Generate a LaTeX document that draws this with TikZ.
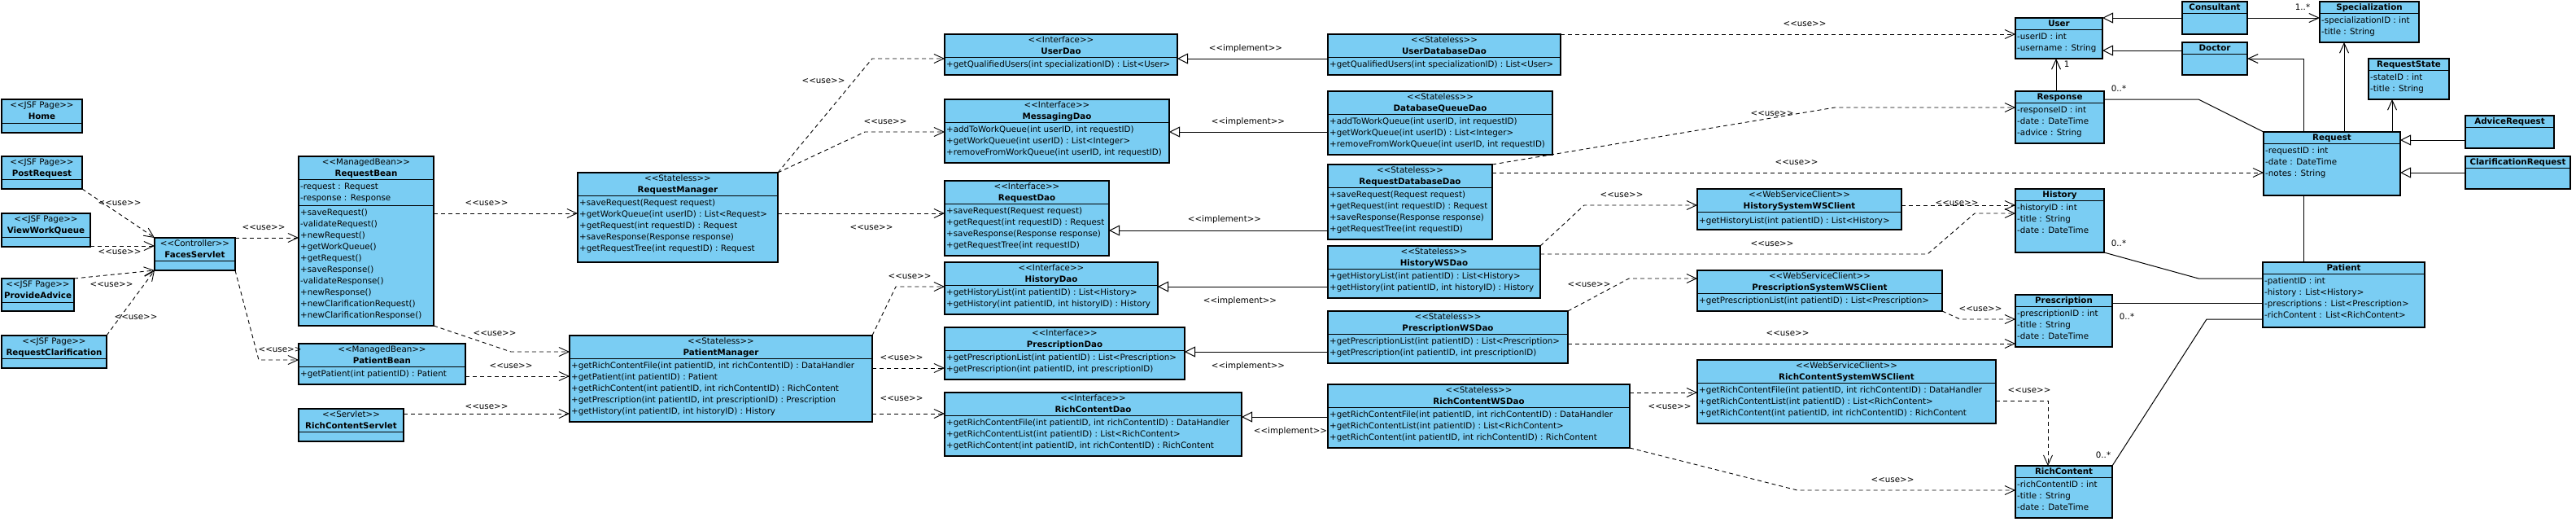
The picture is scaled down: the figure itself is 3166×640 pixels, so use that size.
\documentclass[tikz,border=0pt]{standalone}
\usepackage{fontspec}
\setmainfont{DejaVu Sans}[Ligatures=TeXOff]
\usetikzlibrary{arrows.meta}
\definecolor{clsfill}{RGB}{122,205,243}
\tikzset{
  cbox/.style={draw=black, fill=clsfill, line width=1.2pt, inner sep=0pt, outer sep=0pt, rectangle},
  divl/.style={draw=black, line width=1pt},
  txt/.style={inner sep=0pt, text height=7pt, text depth=2pt, font=\fontsize{10.3pt}{12pt}\selectfont},
  lbl/.style={txt},
  dep/.style={line width=0.9pt, dash pattern=on 5pt off 4pt, -{Straight Barb[length=12pt,width=11pt,line width=0.9pt]}},
  impl/.style={line width=1pt, -{Triangle[open,length=13pt,width=13pt,line width=1pt]}},
  nav/.style={line width=1pt, -{Straight Barb[length=12pt,width=11pt,line width=1pt]}},
  assoc/.style={line width=1pt},
}
\newcommand\ubox[5]{\node[cbox,anchor=north west,minimum width={#4-#2},minimum height={#5-#3}] (#1) at (#2,#3) {};}
\newcommand\udiv[2]{\draw[divl] (#1.west |- 0,#2) -- (#1.east |- 0,#2);}
\newcommand\uc[3]{\node[txt] (#1-#2) at (#1.north |- 0,#2+1) {#3};}
\newcommand\ul[3]{\node[txt,anchor=west,xshift=2pt] (#1-#2) at (#1.west |- 0,#2+1) {#3};}
\begin{document}
\begin{tikzpicture}[x=1pt,y=-1pt]
\fill[white] (0,0) rectangle (3166,640);
\useasboundingbox (0,0) rectangle (3166,640);
% ---------- JSF pages ----------
\ubox{home}{2}{122}{101}{163}\udiv{home}{151}
\uc{home}{129}{<<JSF Page>>}\uc{home}{143}{\textbf{Home}}
\ubox{post}{2}{192}{101}{232}\udiv{post}{220}
\uc{post}{199}{<<JSF Page>>}\uc{post}{213}{\textbf{PostRequest}}
\ubox{view}{2}{262}{111}{303}\udiv{view}{291}
\uc{view}{269}{<<JSF Page>>}\uc{view}{283}{\textbf{ViewWorkQueue}}
\ubox{prov}{2}{342}{91}{382}\udiv{prov}{371}
\uc{prov}{349}{<<JSF Page>>}\uc{prov}{363}{\textbf{ProvideAdvice}}
\ubox{rclar}{2}{412}{131}{452}\udiv{rclar}{440}
\uc{rclar}{419}{<<JSF Page>>}\uc{rclar}{433}{\textbf{RequestClarification}}
\ubox{faces}{190}{292}{289}{332}\udiv{faces}{320}
\uc{faces}{299}{<<Controller>>}\uc{faces}{313}{\textbf{FacesServlet}}
% ---------- beans ----------
\ubox{rbean}{367}{192}{533}{400}\udiv{rbean}{220}\udiv{rbean}{252}
\uc{rbean}{199}{<<ManagedBean>>}\uc{rbean}{213}{\textbf{RequestBean}}
\ul{rbean}{229}{-request : Request}
\ul{rbean}{243}{-response : Response}
\ul{rbean}{261}{+saveRequest()}
\ul{rbean}{275}{-validateRequest()}
\ul{rbean}{289}{+newRequest()}
\ul{rbean}{303}{+getWorkQueue()}
\ul{rbean}{317}{+getRequest()}
\ul{rbean}{331}{+saveResponse()}
\ul{rbean}{345}{-validateResponse()}
\ul{rbean}{359}{+newResponse()}
\ul{rbean}{373}{+newClarificationRequest()}
\ul{rbean}{387}{+newClarificationResponse()}
\ubox{pbean}{367}{422}{572}{472}\udiv{pbean}{450}
\uc{pbean}{429}{<<ManagedBean>>}\uc{pbean}{443}{\textbf{PatientBean}}
\ul{pbean}{459}{+getPatient(int patientID) : Patient}
\ubox{rcserv}{367}{502}{496}{542}\udiv{rcserv}{530}
\uc{rcserv}{509}{<<Servlet>>}\uc{rcserv}{523}{\textbf{RichContentServlet}}
% ---------- managers ----------
\ubox{rmgr}{710}{212}{956}{322}\udiv{rmgr}{240}
\uc{rmgr}{219}{<<Stateless>>}\uc{rmgr}{233}{\textbf{RequestManager}}
\ul{rmgr}{249}{+saveRequest(Request request)}
\ul{rmgr}{263}{+getWorkQueue(int userID) : List<Request>}
\ul{rmgr}{277}{+getRequest(int requestID) : Request}
\ul{rmgr}{291}{+saveResponse(Response response)}
\ul{rmgr}{305}{+getRequestTree(int requestID) : Request}
\ubox{pmgr}{700}{412}{1072}{518}\udiv{pmgr}{440}
\uc{pmgr}{419}{<<Stateless>>}\uc{pmgr}{433}{\textbf{PatientManager}}
\ul{pmgr}{449}{+getRichContentFile(int patientID, int richContentID) : DataHandler}
\ul{pmgr}{463}{+getPatient(int patientID) : Patient}
\ul{pmgr}{477}{+getRichContent(int patientID, int richContentID) : RichContent}
\ul{pmgr}{491}{+getPrescription(int patientID, int prescriptionID) : Prescription}
\ul{pmgr}{505}{+getHistory(int patientID, int historyID) : History}
% ---------- interfaces ----------
\ubox{udao}{1161}{42}{1447}{92}\udiv{udao}{70}
\uc{udao}{49}{<<Interface>>}\uc{udao}{63}{\textbf{UserDao}}
\ul{udao}{79}{+getQualifiedUsers(int specializationID) : List<User>}
\ubox{mdao}{1161}{122}{1437}{200}\udiv{mdao}{150}
\uc{mdao}{129}{<<Interface>>}\uc{mdao}{143}{\textbf{MessagingDao}}
\ul{mdao}{159}{+addToWorkQueue(int userID, int requestID)}
\ul{mdao}{173}{+getWorkQueue(int userID) : List<Integer>}
\ul{mdao}{187}{+removeFromWorkQueue(int userID, int requestID)}
\ubox{rdao}{1161}{222}{1363}{314}\udiv{rdao}{250}
\uc{rdao}{229}{<<Interface>>}\uc{rdao}{243}{\textbf{RequestDao}}
\ul{rdao}{259}{+saveRequest(Request request)}
\ul{rdao}{273}{+getRequest(int requestID) : Request}
\ul{rdao}{287}{+saveResponse(Response response)}
\ul{rdao}{301}{+getRequestTree(int requestID)}
\ubox{hdao}{1161}{322}{1423}{386}\udiv{hdao}{350}
\uc{hdao}{329}{<<Interface>>}\uc{hdao}{343}{\textbf{HistoryDao}}
\ul{hdao}{359}{+getHistoryList(int patientID) : List<History>}
\ul{hdao}{373}{+getHistory(int patientID, int historyID) : History}
\ubox{prdao}{1161}{402}{1456}{466}\udiv{prdao}{430}
\uc{prdao}{409}{<<Interface>>}\uc{prdao}{423}{\textbf{PrescriptionDao}}
\ul{prdao}{439}{+getPrescriptionList(int patientID) : List<Prescription>}
\ul{prdao}{453}{+getPrescription(int patientID, int prescriptionID)}
\ubox{rcdao}{1161}{482}{1526}{560}\udiv{rcdao}{510}
\uc{rcdao}{489}{<<Interface>>}\uc{rcdao}{503}{\textbf{RichContentDao}}
\ul{rcdao}{519}{+getRichContentFile(int patientID, int richContentID) : DataHandler}
\ul{rcdao}{533}{+getRichContentList(int patientID) : List<RichContent>}
\ul{rcdao}{547}{+getRichContent(int patientID, int richContentID) : RichContent}
% ---------- implementations ----------
\ubox{udbdao}{1632}{42}{1918}{92}\udiv{udbdao}{70}
\uc{udbdao}{49}{<<Stateless>>}\uc{udbdao}{63}{\textbf{UserDatabaseDao}}
\ul{udbdao}{79}{+getQualifiedUsers(int specializationID) : List<User>}
\ubox{dbqdao}{1632}{112}{1908}{190}\udiv{dbqdao}{140}
\uc{dbqdao}{119}{<<Stateless>>}\uc{dbqdao}{133}{\textbf{DatabaseQueueDao}}
\ul{dbqdao}{149}{+addToWorkQueue(int userID, int requestID)}
\ul{dbqdao}{163}{+getWorkQueue(int userID) : List<Integer>}
\ul{dbqdao}{177}{+removeFromWorkQueue(int userID, int requestID)}
\ubox{rdbdao}{1632}{202}{1834}{294}\udiv{rdbdao}{230}
\uc{rdbdao}{209}{<<Stateless>>}\uc{rdbdao}{223}{\textbf{RequestDatabaseDao}}
\ul{rdbdao}{239}{+saveRequest(Request request)}
\ul{rdbdao}{253}{+getRequest(int requestID) : Request}
\ul{rdbdao}{267}{+saveResponse(Response response)}
\ul{rdbdao}{281}{+getRequestTree(int requestID)}
\ubox{hwsdao}{1632}{302}{1893}{366}\udiv{hwsdao}{330}
\uc{hwsdao}{309}{<<Stateless>>}\uc{hwsdao}{323}{\textbf{HistoryWSDao}}
\ul{hwsdao}{339}{+getHistoryList(int patientID) : List<History>}
\ul{hwsdao}{353}{+getHistory(int patientID, int historyID) : History}
\ubox{pwsdao}{1632}{382}{1927}{446}\udiv{pwsdao}{410}
\uc{pwsdao}{389}{<<Stateless>>}\uc{pwsdao}{403}{\textbf{PrescriptionWSDao}}
\ul{pwsdao}{419}{+getPrescriptionList(int patientID) : List<Prescription>}
\ul{pwsdao}{433}{+getPrescription(int patientID, int prescriptionID)}
\ubox{rcwsdao}{1632}{472}{2003}{550}\udiv{rcwsdao}{500}
\uc{rcwsdao}{479}{<<Stateless>>}\uc{rcwsdao}{493}{\textbf{RichContentWSDao}}
\ul{rcwsdao}{509}{+getRichContentFile(int patientID, int richContentID) : DataHandler}
\ul{rcwsdao}{523}{+getRichContentList(int patientID) : List<RichContent>}
\ul{rcwsdao}{537}{+getRichContent(int patientID, int richContentID) : RichContent}
% ---------- web service clients ----------
\ubox{hsc}{2086}{232}{2337}{282}\udiv{hsc}{260}
\uc{hsc}{239}{<<WebServiceClient>>}\uc{hsc}{253}{\textbf{HistorySystemWSClient}}
\ul{hsc}{271}{+getHistoryList(int patientID) : List<History>}
\ubox{psc}{2086}{332}{2387}{382}\udiv{psc}{360}
\uc{psc}{339}{<<WebServiceClient>>}\uc{psc}{353}{\textbf{PrescriptionSystemWSClient}}
\ul{psc}{369}{+getPrescriptionList(int patientID) : List<Prescription>}
\ubox{rcsc}{2086}{442}{2453}{520}\udiv{rcsc}{470}
\uc{rcsc}{449}{<<WebServiceClient>>}\uc{rcsc}{463}{\textbf{RichContentSystemWSClient}}
\ul{rcsc}{479}{+getRichContentFile(int patientID, int richContentID) : DataHandler}
\ul{rcsc}{493}{+getRichContentList(int patientID) : List<RichContent>}
\ul{rcsc}{507}{+getRichContent(int patientID, int richContentID) : RichContent}
% ---------- entities ----------
\ubox{user}{2477}{22}{2584}{72}\udiv{user}{36}
\uc{user}{29}{\textbf{User}}
\ul{user}{45}{-userID : int}\ul{user}{59}{-username : String}
\ubox{resp}{2477}{112}{2586}{176}\udiv{resp}{126}
\uc{resp}{119}{\textbf{Response}}
\ul{resp}{135}{-responseID : int}\ul{resp}{149}{-date : DateTime}\ul{resp}{163}{-advice : String}
\ubox{hist}{2477}{232}{2586}{310}\udiv{hist}{246}
\uc{hist}{239}{\textbf{History}}
\ul{hist}{255}{-historyID : int}\ul{hist}{269}{-title : String}\ul{hist}{283}{-date : DateTime}
\ubox{presc}{2477}{362}{2596}{426}\udiv{presc}{376}
\uc{presc}{369}{\textbf{Prescription}}
\ul{presc}{385}{-prescriptionID : int}\ul{presc}{399}{-title : String}\ul{presc}{413}{-date : DateTime}
\ubox{rc}{2477}{572}{2596}{636}\udiv{rc}{586}
\uc{rc}{579}{\textbf{RichContent}}
\ul{rc}{595}{-richContentID : int}\ul{rc}{609}{-title : String}\ul{rc}{623}{-date : DateTime}
\ubox{cons}{2682}{2}{2762}{42}\udiv{cons}{16}
\uc{cons}{9}{\textbf{Consultant}}
\ubox{doc}{2682}{52}{2762}{92}\udiv{doc}{66}
\uc{doc}{59}{\textbf{Doctor}}
\ubox{spec}{2851}{2}{2973}{52}\udiv{spec}{16}
\uc{spec}{9}{\textbf{Specialization}}
\ul{spec}{25}{-specializationID : int}\ul{spec}{39}{-title : String}
\ubox{rstate}{2911}{72}{3010}{122}\udiv{rstate}{86}
\uc{rstate}{79}{\textbf{RequestState}}
\ul{rstate}{95}{-stateID : int}\ul{rstate}{109}{-title : String}
\ubox{req}{2782}{162}{2950}{240}\udiv{req}{176}
\uc{req}{169}{\textbf{Request}}
\ul{req}{185}{-requestID : int}\ul{req}{199}{-date : DateTime}\ul{req}{213}{-notes : String}
\ubox{pat}{2781}{322}{2980}{402}\udiv{pat}{336}
\uc{pat}{329}{\textbf{Patient}}
\ul{pat}{345}{-patientID : int}
\ul{pat}{359}{-history : List<History>}
\ul{pat}{373}{-prescriptions : List<Prescription>}
\ul{pat}{387}{-richContent : List<RichContent>}
\ubox{adv}{3030}{142}{3139}{182}\udiv{adv}{156}
\uc{adv}{149}{\textbf{AdviceRequest}}
\ubox{clr}{3030}{192}{3159}{232}\udiv{clr}{206}
\uc{clr}{199}{\textbf{ClarificationRequest}}
% ---------- connectors ----------
\draw[dep] (post.south east) -- (faces.north west);
\draw[dep] (view.east |- 0,302) -- (faces.west |- 0,302);
\draw[dep] (prov.north east) -- (faces.south west);
\draw[dep] (rclar.north east) -- (faces.south west);
\draw[dep] (faces.north east) -- (rbean.west |- faces.north east);
\draw[dep] (faces.south east) -- (318,442) -- (pbean.west |- 0,442);
\draw[dep] (rbean.east |- 0,262) -- (rmgr.west |- 0,262);
\draw[dep] (rbean.south east) -- (628,432) -- (pmgr.west |- 0,432);
\draw[dep] (pbean.east |- 0,462) -- (pmgr.west |- 0,462);
\draw[dep] (rcserv.east |- 0,508) -- (pmgr.west |- 0,508);
\draw[dep] (rmgr.north east) -- (1072,72) -- (udao.west |- 0,72);
\draw[dep] (rmgr.north east) -- (1063,162) -- (mdao.west |- 0,162);
\draw[dep] (rmgr.east |- 0,262) -- (rdao.west |- 0,262);
\draw[dep] (pmgr.north east) -- (1101,352) -- (hdao.west |- 0,352);
\draw[dep] (pmgr.east |- 0,452) -- (prdao.west |- 0,452);
\draw[dep] (pmgr.east |- 0,508) -- (rcdao.west |- 0,508);
\draw[impl] (udbdao.west |- 0,72) -- (udao.east |- 0,72);
\draw[impl] (dbqdao.west |- 0,162) -- (mdao.east |- 0,162);
\draw[impl] (rdbdao.west |- 0,283) -- (rdao.east |- 0,283);
\draw[impl] (hwsdao.west |- 0,352) -- (hdao.east |- 0,352);
\draw[impl] (pwsdao.west |- 0,432) -- (prdao.east |- 0,432);
\draw[impl] (rcwsdao.west |- 0,512) -- (rcdao.east |- 0,512);
\draw[dep] (udbdao.north east) -- (user.west |- udbdao.north east);
\draw[dep] (rdbdao.north east) -- (2255,132) -- (resp.west |- 0,132);
\draw[dep] (rdbdao.east |- 0,212) -- (req.west |- 0,212);
\draw[dep] (hwsdao.north east) -- (1947,252) -- (hsc.west |- 0,252);
\draw[dep] (hwsdao.east |- 0,312) -- (2369,312) -- (2427,262) -- (hist.west |- 0,262);
\draw[dep] (hsc.east |- 0,252) -- (hist.west |- 0,252);
\draw[dep] (pwsdao.north east) -- (2002,342) -- (psc.west |- 0,342);
\draw[dep] (psc.south east) -- (2409,392) -- (presc.west |- 0,392);
\draw[dep] (pwsdao.east |- 0,422) -- (presc.west |- 0,422);
\draw[dep] (rcwsdao.east |- 0,482) -- (rcsc.west |- 0,482);
\draw[dep] (rcsc.east |- 0,492) -- (2517,492) -- (rc.north -| 2517,0);
\draw[dep] (rcwsdao.south east) -- (2209,602) -- (rc.west |- 0,602);
\draw[nav] (resp.north -| 2527,0) -- (user.south -| 2527,0);
\draw[assoc] (resp.east |- 0,122) -- (2702,122) -- (req.north west);
\draw[impl] (cons.west |- 0,22) -- (user.east |- 0,22);
\draw[impl] (doc.west |- 0,62) -- (user.east |- 0,62);
\draw[nav] (cons.east |- 0,22) -- (spec.west |- 0,22);
\draw[nav] (req.north -| 2831,0) -- (2831,72) -- (doc.east |- 0,72);
\draw[nav] (req.north -| 2881,0) -- (spec.south -| 2881,0);
\draw[nav] (req.north -| 2940,0) -- (rstate.south -| 2940,0);
\draw[impl] (adv.west |- 0,172) -- (req.east |- 0,172);
\draw[impl] (clr.west |- 0,212) -- (req.east |- 0,212);
\draw[assoc] (req.south -| 2831,0) -- (pat.north -| 2831,0);
\draw[assoc] (hist.south east) -- (2702,342) -- (pat.west |- 0,342);
\draw[assoc] (presc.east |- 0,372) -- (pat.west |- 0,372);
\draw[assoc] (rc.north east) -- (2712,392) -- (pat.west |- 0,392);
% ---------- labels ----------
\node[lbl] (l1) at (147,250) {<<use>>};
\node[lbl] (l2) at (147,310) {<<use>>};
\node[lbl] (l3) at (137,350) {<<use>>};
\node[lbl] (l4) at (167,390) {<<use>>};
\node[lbl] (l5) at (324,280) {<<use>>};
\node[lbl] (l6) at (344,430) {<<use>>};
\node[lbl] (l7) at (598,250) {<<use>>};
\node[lbl] (l8) at (608,410) {<<use>>};
\node[lbl] (l9) at (628,450) {<<use>>};
\node[lbl] (l10) at (598,500) {<<use>>};
\node[lbl] (l11) at (1012,100) {<<use>>};
\node[lbl] (l12) at (1088,150) {<<use>>};
\node[lbl] (l13) at (1071,280) {<<use>>};
\node[lbl] (l14) at (1118,340) {<<use>>};
\node[lbl] (l15) at (1108,440) {<<use>>};
\node[lbl] (l16) at (1108,490) {<<use>>};
\node[lbl] (l17) at (1531,60) {<<implement>>};
\node[lbl] (l18) at (1534,150) {<<implement>>};
\node[lbl] (l19) at (1505,270) {<<implement>>};
\node[lbl] (l20) at (1524,370) {<<implement>>};
\node[lbl] (l21) at (1534,450) {<<implement>>};
\node[lbl] (l22) at (1586,530) {<<implement>>};
\node[lbl] (l23) at (2218,30) {<<use>>};
\node[lbl] (l24) at (2178,140) {<<use>>};
\node[lbl] (l25) at (2208,200) {<<use>>};
\node[lbl] (l26) at (1993,240) {<<use>>};
\node[lbl] (l27) at (2178,300) {<<use>>};
\node[lbl] (l28) at (2405,250) {<<use>>};
\node[lbl] (l29) at (1953,350) {<<use>>};
\node[lbl] (l30) at (2434,380) {<<use>>};
\node[lbl] (l31) at (2197,410) {<<use>>};
\node[lbl] (l32) at (2052,500) {<<use>>};
\node[lbl] (l33) at (2494,480) {<<use>>};
\node[lbl] (l34) at (2326,590) {<<use>>};
\node[lbl] (m1) at (2540,80) {1};
\node[lbl] (m2) at (2604,110) {0..*};
\node[lbl] (m3) at (2830,10) {1..*};
\node[lbl] (m4) at (2604,300) {0..*};
\node[lbl] (m5) at (2614,390) {0..*};
\node[lbl] (m6) at (2585,560) {0..*};
\end{tikzpicture}
\end{document}
